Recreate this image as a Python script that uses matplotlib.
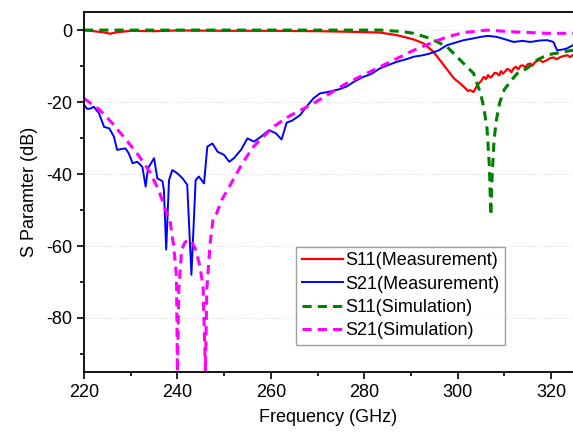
import numpy as np
import matplotlib.pyplot as plt

plt.rcParams['font.family'] = ['Liberation Sans', 'DejaVu Sans']
plt.rcParams['axes.unicode_minus'] = False

# S11 measurement (red)
s11_meas_f = [220, 222, 224, 225.6, 227, 230, 235, 240, 250, 260, 270, 278, 283.4, 287,
              290.6, 292.7, 294.8, 297, 299.2, 300.5, 301.3, 302.2, 302.7, 303.4, 304.2,
              305, 305.6, 306.1, 306.5, 307, 307.4, 307.9, 308.4, 308.9, 309.3, 309.7,
              310.1, 310.6, 311, 311.5, 312, 312.5, 313, 313.5, 314, 314.5, 315,
              315.6, 316, 316.5, 317, 317.6, 318.2, 319.2, 319.8, 320.5, 321.2, 322,
              322.7, 323.5, 324.1, 324.7]
s11_meas_db = [0, -0.3, -0.6, -1.0, -0.6, -0.2, -0.3, -0.1, -0.2, -0.2, -0.3, -0.5, -0.7, -1.4,
               -2.6, -3.7, -6.0, -9.7, -13.4, -14.8, -15.7, -16.9, -16.7, -17.2, -15.3,
               -14.2, -13.0, -13.6, -12.5, -13.2, -12.8, -11.9, -12.0, -12.6, -11.4, -12.1,
               -11.6, -10.8, -11.0, -11.7, -10.6, -10.2, -10.9, -9.9, -9.8, -10.4, -9.5,
               -9.3, -9.9, -9.0, -8.6, -8.3, -8.9, -8.3, -7.8, -7.6, -8.1, -7.5,
               -7.2, -7.0, -7.5, -6.9]

# S21 measurement (blue)
s21_meas_f = [220, 220.7, 221.4, 222.1, 223.2, 224.3, 225.4, 226.4, 227.1, 228.2, 228.9,
              229.6, 230.4, 231.4, 232.5, 233.2, 233.7, 235, 235.7, 236.8, 237.1, 237.6,
              238.2, 238.9, 240, 241.1, 242.1, 243, 243.9, 244.6, 245.7, 246.4, 247.5,
              248.6, 250, 251.1, 252.1, 253.6, 255, 256.4, 257.9, 259.6, 261.1, 262.3,
              263.4, 264.5, 266.3, 267.5, 269.1, 270.5, 272.6, 274.5, 276.2, 278, 279.8,
              281.5, 283.4, 285, 287, 289, 290.6, 292.5, 294.1, 296, 297.7, 299.5,
              301.3, 303, 304.9, 306.5, 308.4, 310, 312, 313.8, 315.6, 317.5, 319.2,
              320.5, 321.3, 322.5, 323.4, 324.7]
s21_meas_db = [-20.8, -21.9, -21.8, -21.3, -23.1, -26.9, -27.3, -29.6, -33.3, -33.0, -32.9,
               -34.3, -37.0, -36.6, -38.0, -43.5, -38.4, -35.6, -41.2, -42.0, -44.4, -61.0,
               -41.7, -38.9, -39.8, -41.2, -43.0, -68.0, -41.7, -40.7, -42.6, -32.4, -31.5,
               -33.8, -34.7, -36.6, -35.6, -33.3, -30.1, -31.0, -29.6, -27.8, -28.7, -30.4,
               -25.7, -25.2, -23.6, -21.5, -19.0, -17.6, -17.1, -16.5, -15.7, -14.2, -13.0,
               -12.2, -10.6, -9.8, -8.8, -8.1, -7.4, -7.0, -6.5, -5.6, -4.2, -3.5,
               -2.8, -2.4, -1.9, -1.6, -1.9, -2.5, -3.3, -3.0, -3.3, -2.9, -2.8,
               -3.3, -5.6, -5.4, -5.1, -4.2]

# S11 simulation (green)
s11_sim_f = [220, 240, 260, 275, 283.4, 288, 290.6, 294.1, 297.7, 301.3, 303.4, 304.9,
             305.6, 306.3, 306.8, 307.1, 307.4, 307.8, 308.3, 309, 310, 311.6, 312.8,
             314.8, 317, 319.2, 322, 324.7]
s11_sim_db = [0, 0, 0, 0, 0, -0.4, -0.9, -2.3, -4.6, -9.3, -12.0, -17.6,
              -21.5, -27.5, -38.0, -51.5, -40.0, -30.5, -25.0, -20.2, -16.5, -13.8, -12.0,
              -10.7, -8.3, -6.9, -6.2, -5.6]

# S21 simulation (magenta)
s21_sim_f = [220, 223.4, 226, 229.1, 231.5, 234.1, 236, 237.7, 238.4, 239.2, 239.8, 240.0,
             240.3, 240.9, 241.6, 242.3, 243.1, 243.9, 244.8, 245.5, 246.0, 246.3, 247,
             247.7, 248.4, 249.5, 251.9, 254, 256.3, 260.5, 264.1, 269.1, 276.2, 283.4,
             290.6, 294.1, 297.7, 301.3, 306.3, 312, 319.2, 324.7]
s21_sim_db = [-19.0, -22.2, -25.8, -30.6, -34.5, -39.4, -44.5, -50.9, -52.8, -60.0, -68.5, -95,
              -72.0, -61.1, -59.0, -58.3, -58.8, -61.0, -65.5, -71.3, -95, -72.0, -59.3,
              -51.9, -50.9, -47.2, -41.7, -36.8, -32.4, -26.9, -23.8, -20.4, -14.8, -10.2,
              -5.6, -3.7, -1.9, -0.7, 0.0, -0.5, -0.9, -0.9]

fig = plt.figure(figsize=(5.73, 4.32), dpi=100)
ax = fig.add_axes([0.1466, 0.139, 0.8534, 0.833])

ax.plot(s11_meas_f, s11_meas_db, color='red', lw=1.6, label='S11(Measurement)')
ax.plot(s21_meas_f, s21_meas_db, color='blue', lw=1.4, label='S21(Measurement)')
ax.plot(s11_sim_f, s11_sim_db, color='green', lw=2.2, ls=(0, (3, 2)), label='S11(Simulation)')
ax.plot(s21_sim_f, s21_sim_db, color='magenta', lw=2.2, ls=(0, (3, 2)), label='S21(Simulation)')

ax.set_xlim(220, 324.7)
ax.set_ylim(-95, 5)
ax.set_xticks([220, 240, 260, 280, 300, 320])
ax.set_xticks([230, 250, 270, 290, 310], minor=True)
ax.set_yticks([0, -20, -40, -60, -80])
ax.set_yticks([-10, -30, -50, -70, -90], minor=True)
ax.tick_params(which='both', direction='out', labelsize=13, width=1.2)
ax.tick_params(which='major', length=5)
ax.tick_params(which='minor', length=3)
ax.grid(axis='y', which='major', color='#dddddd', ls=':', lw=0.8)
ax.spines['right'].set_visible(False)
for s in ['left', 'top', 'bottom']:
    ax.spines[s].set_linewidth(1.3)

ax.set_xlabel('Frequency (GHz)', fontsize=13, labelpad=6)
ax.set_ylabel('S Paramter (dB)', fontsize=13, labelpad=6)

leg = ax.legend(loc='upper left', bbox_to_anchor=(0.434, 0.347), borderaxespad=0,
                fontsize=13, fancybox=False, edgecolor='#888888', handlelength=2.3,
                handletextpad=0.1, labelspacing=0.35, borderpad=0.3)
leg.get_frame().set_linewidth(1.0)

fig.savefig('out.png', dpi=100)
